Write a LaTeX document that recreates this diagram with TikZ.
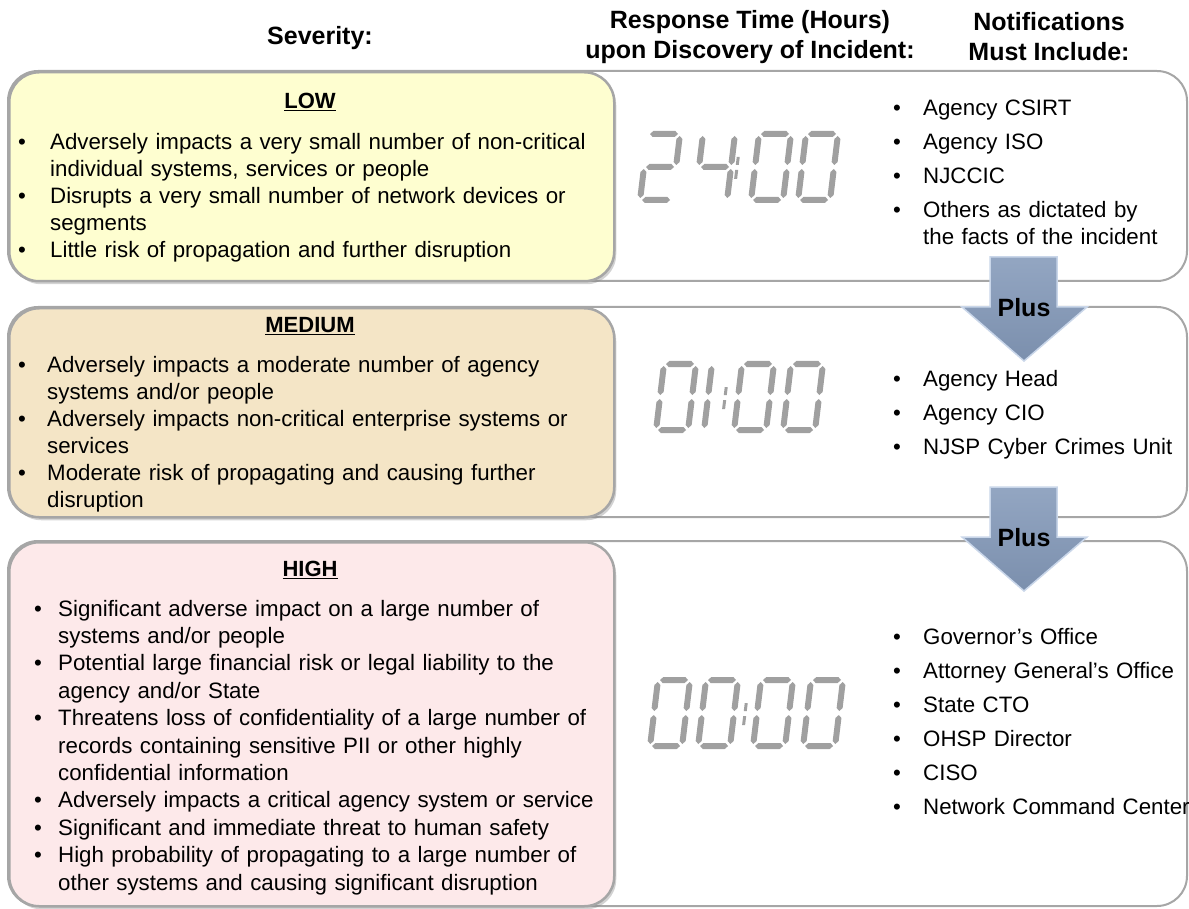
\documentclass[tikz,border=0pt]{standalone}
\usepackage{fontspec}
\setmainfont{Liberation Sans}
\usetikzlibrary{shadows}

\definecolor{boxgray}{HTML}{A6A6A6}
\definecolor{lowfill}{HTML}{FEFED0}
\definecolor{medfill}{HTML}{F4E5C6}
\definecolor{highfill}{HTML}{FDE9EA}
\definecolor{digitgray}{HTML}{A0A0A0}
\definecolor{arrowtop}{HTML}{93A6C2}
\definecolor{arrowbot}{HTML}{7B8FAD}
\definecolor{arrowedge}{HTML}{C9D6E9}

% bullet item: #1 hanging indent, #2 text
\newcommand\bitem[2]{\noindent\hangindent=#1\hangafter=1\hbox to #1{\textbullet\hfil}#2\par}
\newcommand\bgap{\vskip7pt}

% seven segment display
\newcommand\hseg[3]{\fill[digit] (#1,#3) -- (#1+3,#3-3) -- (#2-3,#3-3) -- (#2,#3) -- (#2-3,#3+3) -- (#1+3,#3+3) -- cycle;}
\newcommand\vseg[3]{\fill[digit] (#1,#2) -- (#1+3,#2+3) -- (#1+3,#3-3) -- (#1,#3) -- (#1-3,#3-3) -- (#1-3,#2+3) -- cycle;}
\newcommand\segA{\hseg{2}{30}{0}}
\newcommand\segB{\vseg{32}{2}{31}}
\newcommand\segC{\vseg{32}{35}{64}}
\newcommand\segD{\hseg{2}{30}{66}}
\newcommand\segE{\vseg{0}{35}{64}}
\newcommand\segF{\vseg{0}{2}{31}}
\newcommand\segG{\hseg{2}{30}{33}}
\newcommand\sevenseg[3]{\begin{scope}[shift={(#1,#2)},xslant=0.12]
  \foreach \s in {#3}{\csname seg\s\endcsname}
\end{scope}}
\newcommand\segcolon[2]{\begin{scope}[shift={(#1,#2)},xslant=0.12]
  \fill[digit] (-1.5,23) rectangle (1.5,31);
  \fill[digit] (-1.5,36) rectangle (1.5,45);
\end{scope}}

% down arrow with label
\newcommand\plusarrow[2]{%
  \path[arrowbody] (990,#2) -- (1057,#2) -- (1057,#2+50) -- (1087,#2+50) -- (1024,#2+104) -- (962,#2+50) -- (990,#2+50) -- cycle;
  \node[plus] (#1) at (1024,#2+51) {Plus};}

\tikzset{
  rowframe/.style={draw=boxgray, line width=2pt, rounded corners=30pt, fill=white},
  sevbox/.style={draw=boxgray, line width=2.5pt, rounded corners=30pt, anchor=north west,
    minimum width=605pt, inner sep=0pt,
    drop shadow={opacity=0.35, shadow xshift=2pt, shadow yshift=-3pt}},
  digit/.style={fill=digitgray},
  heading/.style={font=\fontsize{25}{30}\selectfont\bfseries, align=center},
  level/.style={font=\fontsize{22}{27}\selectfont\bfseries},
  items/.style={font=\fontsize{22.3}{27}\selectfont, text width=600pt, align=left, anchor=base west, inner sep=0pt},
  notify/.style={items, text width=300pt},
  plus/.style={font=\fontsize{25}{30}\selectfont\bfseries},
  arrowbody/.style={top color=arrowtop, bottom color=arrowbot, draw=arrowedge, line width=1.5pt},
}

\begin{document}
\begin{tikzpicture}[x=1pt,y=-1pt]
\useasboundingbox (0,0) rectangle (1189,909);
\clip (0,0) rectangle (1189,909);

% column headings
\node[heading] (sevhead) at (320,38) {Severity:};
\node[heading] (timehead) at (750,37) {Response Time (Hours)\\upon Discovery of Incident:};
\node[heading] (notehead) at (1049,37) {Notifications\\Must Include:};

% row frames
\foreach \t/\b in {71/281, 307/517, 541/906}
  \draw[rowframe] (8,\t) rectangle (1187,\b);

% severity boxes
\node[sevbox, fill=lowfill, minimum height=209pt] (lowbox) at (8,71) {};
\node[sevbox, fill=medfill, minimum height=209pt] (medbox) at (8,307) {};
\node[sevbox, fill=highfill, minimum height=364pt] (highbox) at (8,541) {};

\node[level] (low) at (310,102) {\underline{LOW}};
\node[level] (medium) at (310,326) {\underline{MEDIUM}};
\node[level] (high) at (310,570) {\underline{HIGH}};

\node[items] (lowitems) at (18,150) {%
\bitem{32pt}{Adversely impacts a very small number of non-critical\newline individual systems, services or people}%
\bitem{32pt}{Disrupts a very small number of network devices or\newline segments}%
\bitem{32pt}{Little risk of propagation and further disruption}};

\node[items] (meditems) at (18,373) {%
\bitem{29pt}{Adversely impacts a moderate number of agency\newline systems and/or people}%
\bitem{29pt}{Adversely impacts non-critical enterprise systems or\newline services}%
\bitem{29pt}{Moderate risk of propagating and causing further\newline disruption}};

\node[items, font=\fontsize{22.3}{27.4}\selectfont] (highitems) at (34,616) {%
\bitem{24pt}{Significant adverse impact on a large number of\newline systems and/or people}%
\bitem{24pt}{Potential large financial risk or legal liability to the\newline agency and/or State}%
\bitem{24pt}{Threatens loss of confidentiality of a large number of\newline records containing sensitive PII or other highly\newline confidential information}%
\bitem{24pt}{Adversely impacts a critical agency system or service}%
\bitem{24pt}{Significant and immediate threat to human safety}%
\bitem{24pt}{High probability of propagating to a large number of\newline other systems and causing significant disruption}};

% response times
\sevenseg{648}{134}{A,B,G,E,D}
\sevenseg{703}{134}{F,G,B,C}
\segcolon{741}{134}
\sevenseg{759}{134}{A,B,C,D,E,F}
\sevenseg{806}{134}{A,B,C,D,E,F}

\sevenseg{664}{364}{A,B,C,D,E,F}
\sevenseg{680}{364}{B,C}
\segcolon{729}{364}
\sevenseg{742}{364}{A,B,C,D,E,F}
\sevenseg{791}{364}{A,B,C,D,E,F}

\sevenseg{658}{680}{A,B,C,D,E,F}
\sevenseg{706}{680}{A,B,C,D,E,F}
\segcolon{749}{680}
\sevenseg{761}{680}{A,B,C,D,E,F}
\sevenseg{811}{680}{A,B,C,D,E,F}

% notifications
\node[notify] (lownotify) at (893,116) {%
\bitem{30pt}{Agency CSIRT}\bgap
\bitem{30pt}{Agency ISO}\bgap
\bitem{30pt}{NJCCIC}\bgap
\bitem{30pt}{Others as dictated by\newline the facts of the incident}};

\node[notify] (mednotify) at (893,386) {%
\bitem{30pt}{Agency Head}\bgap
\bitem{30pt}{Agency CIO}\bgap
\bitem{30pt}{NJSP Cyber Crimes Unit}};

\node[notify] (highnotify) at (893,644) {%
\bitem{30pt}{Governor’s Office}\bgap
\bitem{30pt}{Attorney General’s Office}\bgap
\bitem{30pt}{State CTO}\bgap
\bitem{30pt}{OHSP Director}\bgap
\bitem{30pt}{CISO}\bgap
\bitem{30pt}{Network Command Center}};

% escalation arrows
\plusarrow{plusA}{257}
\plusarrow{plusB}{487}
\end{tikzpicture}
\end{document}
